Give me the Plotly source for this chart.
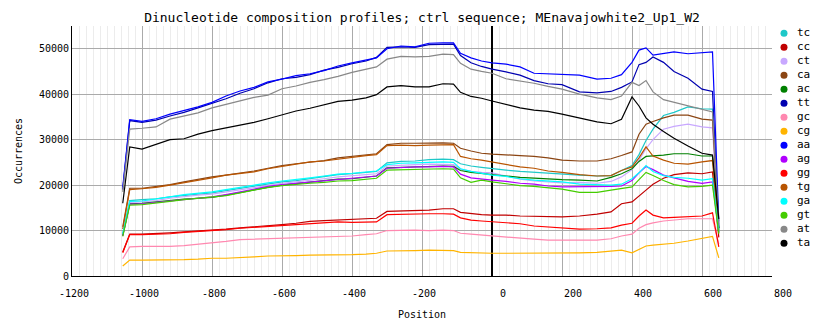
import plotly.graph_objects as go

# Window positions (bp relative to the reference site)
POSITIONS = [-1055, -1035, -1000, -960, -920, -880, -840, -800, -760, -720,
             -680, -640, -600, -560, -520, -480, -440, -400, -360, -330,
             -300, -260, -220, -180, -140, -110, -90, -60, -30, 0,
             40, 80, 120, 160, 200, 250, 300, 340, 370, 400,
             420, 440, 460, 490, 520, 560, 600, 630, 648]

# Dinucleotide occurrence counts per window
tc = [9300, 16600, 16800, 17000, 17400, 17700, 18000, 18300, 18800, 19300,
      19800, 20300, 20700, 21000, 21400, 21800, 22300, 22500, 22800, 23000,
      24900, 25200, 25300, 25600, 25700, 25600, 24700, 24200, 23900, 23600,
      23300, 23000, 22800, 22500, 22400, 22200, 22000, 22100, 23200, 24300,
      26700, 29800, 32300, 35300, 36000, 37200, 36800, 36700, 10500]
cc = [5300, 9200, 9200, 9300, 9500, 9700, 9900, 10000, 10300, 10600,
      10800, 11000, 11300, 11600, 12000, 12200, 12300, 12500, 12500, 12700,
      14200, 14300, 14300, 14500, 14800, 14800, 14000, 13700, 13500, 13400,
      13400, 13200, 13100, 13100, 13000, 13200, 13600, 14100, 15900, 16300,
      17500, 18900, 20200, 21500, 22300, 22700, 22500, 22900, 8500]
ct = [9000, 16200, 16300, 16600, 17100, 17500, 17800, 18000, 18500, 19000,
      19500, 20000, 20400, 20700, 21000, 21400, 21800, 22000, 22300, 22500,
      24200, 24400, 24500, 24600, 24600, 24500, 23500, 23000, 22800, 22700,
      22000, 21300, 20900, 20700, 20500, 20600, 20400, 20800, 21800, 23400,
      25500, 28000, 30000, 32300, 32900, 33400, 32800, 32600, 9800]
ca = [10800, 19300, 19300, 19700, 20100, 20700, 21300, 21800, 22200, 22600,
      23100, 23700, 24300, 24700, 25000, 25400, 26000, 26300, 26700, 26900,
      28900, 29200, 29200, 29300, 29300, 29200, 28100, 27500, 27000, 26800,
      26700, 26500, 26300, 26000, 25500, 25300, 25300, 25800, 26500, 27300,
      31200, 33400, 34000, 34800, 35400, 35400, 34500, 34300, 10500]
ac = [8900, 15900, 16000, 16300, 16700, 16900, 17100, 17300, 17800, 18400,
      18900, 19500, 20000, 20300, 20600, 20900, 21300, 21400, 21800, 22000,
      23800, 23900, 23900, 24100, 24200, 24100, 23200, 22800, 22600, 22400,
      22000, 21700, 21500, 21300, 21200, 21100, 20900, 21700, 22500, 23600,
      25200, 26300, 26400, 26600, 26900, 26900, 26400, 26400, 10000]
tt = [19000, 34200, 33800, 34300, 35200, 36000, 37000, 38000, 39000, 40200,
      41200, 42500, 43400, 43700, 44300, 45300, 45900, 46700, 47300, 48100,
      50300, 50400, 50300, 50900, 50900, 51000, 48500, 46900, 46100, 45500,
      44900, 44200, 43000, 42300, 42100, 40500, 40300, 40600, 41500, 42700,
      46500, 47000, 48200, 47000, 45000, 43500, 41100, 40600, 10500]
gc = [3800, 6400, 6500, 6500, 6500, 6700, 7000, 7200, 7600, 8000,
      8100, 8200, 8300, 8400, 8600, 8700, 8800, 8800, 9100, 9300,
      10000, 10100, 10100, 10000, 10100, 10000, 9400, 9200, 9000, 8800,
      8600, 8300, 8100, 7900, 7900, 7900, 7900, 8200, 8800, 9200,
      10500, 11300, 11700, 12100, 12300, 12600, 12600, 12600, 7000]
cg = [2200, 3500, 3500, 3500, 3600, 3600, 3700, 3900, 3900, 4000,
      4200, 4400, 4400, 4500, 4600, 4600, 4600, 4700, 4800, 5000,
      5500, 5500, 5600, 5700, 5700, 5600, 5200, 5100, 5000, 5000,
      5000, 5000, 5000, 5000, 5000, 5100, 5200, 5500, 5700, 5100,
      5900, 6600, 6800, 7000, 7200, 7700, 8300, 8700, 4000]
aa = [19500, 34400, 34000, 34600, 35600, 36400, 37200, 38200, 39600, 40700,
      41500, 42700, 43300, 44100, 44500, 45200, 46200, 46900, 47600, 48000,
      50000, 50600, 50400, 51200, 51300, 51300, 49000, 48000, 47300, 46900,
      46600, 46000, 44600, 44500, 44400, 44200, 43300, 43500, 44300, 47000,
      49700, 50200, 48600, 48900, 49300, 48900, 49100, 49300, 12000]
ag = [8900, 15800, 15900, 16200, 16600, 16900, 17200, 17400, 17900, 18500,
      19100, 19700, 20100, 20400, 20700, 21000, 21300, 21500, 21900, 22000,
      23700, 23900, 24000, 24000, 24100, 24000, 22400, 21600, 21300, 21100,
      20800, 20400, 20200, 19800, 19600, 19600, 19700, 19700, 19800, 21000,
      22700, 24100, 23400, 22200, 21600, 20800, 20400, 20700, 9600]
gg = [5100, 9100, 9100, 9200, 9300, 9600, 9800, 9900, 10200, 10500,
      10700, 10900, 11100, 11300, 11600, 11800, 11900, 11800, 11900, 11900,
      13500, 13600, 13600, 13700, 13700, 13600, 12800, 12300, 12100, 11900,
      11700, 11500, 11000, 10800, 10500, 10300, 10400, 10600, 11200, 11600,
      13200, 14500, 13400, 12800, 12900, 13000, 13200, 13900, 6400]
tg = [10300, 19000, 19200, 19500, 20000, 20500, 21000, 21600, 22200, 22500,
      22900, 23600, 24100, 24700, 25100, 25300, 25700, 26200, 26500, 26700,
      28700, 28800, 28700, 28800, 28900, 28900, 26300, 25800, 25500, 25100,
      24600, 24000, 23700, 23100, 22800, 22300, 22000, 22100, 23200, 24000,
      26000, 28400, 26400, 25500, 24800, 24600, 25100, 25400, 9500]
ga = [9200, 16400, 16500, 16900, 17400, 17900, 18200, 18500, 19000, 19500,
      20100, 20500, 20900, 21200, 21600, 22000, 22400, 22600, 22900, 23100,
      24500, 24800, 24900, 25000, 25100, 25000, 23600, 23000, 22600, 22200,
      21900, 21400, 21100, 20900, 20700, 20200, 20000, 20000, 20200, 21400,
      22700, 24300, 23000, 22100, 21700, 21500, 21100, 21400, 9800]
gt = [8700, 15600, 15700, 16000, 16400, 16800, 17100, 17300, 17700, 18300,
      18900, 19500, 19900, 20200, 20400, 20600, 20900, 21000, 21300, 21500,
      23300, 23400, 23500, 23600, 23600, 23500, 21600, 20600, 21100, 20700,
      20300, 19900, 19700, 19400, 19100, 18400, 18400, 18900, 19200, 19600,
      21200, 22800, 22100, 21000, 20100, 19600, 19700, 20000, 9300]
at = [18500, 32300, 32500, 32800, 34500, 35200, 35900, 37000, 37800, 38600,
      39300, 39800, 41200, 41800, 42600, 43200, 43900, 44800, 45400, 46000,
      47700, 48300, 48200, 48300, 48800, 48700, 46800, 45500, 45000, 44600,
      43400, 42900, 42400, 41700, 41100, 40000, 39200, 38800, 39600, 42600,
      41900, 43000, 40500, 38800, 38200, 37500, 36600, 36100, 11500]
ta = [16000, 28400, 27900, 28900, 30000, 30200, 31200, 32000, 32600, 33200,
      33800, 34600, 35500, 36300, 36900, 37600, 38400, 38700, 39200, 39900,
      41600, 41900, 41600, 41600, 42300, 42200, 40400, 39500, 39100, 38500,
      37800, 37000, 36500, 36200, 35600, 34800, 33900, 33500, 34500, 39400,
      37400, 34800, 33400, 31800, 30300, 28600, 27000, 26600, 12500]

SERIES = {"tc": tc, "cc": cc, "ct": ct, "ca": ca, "ac": ac, "tt": tt,
          "gc": gc, "cg": cg, "aa": aa, "ag": ag, "gg": gg, "tg": tg,
          "ga": ga, "gt": gt, "at": at, "ta": ta}
NAMES = list(SERIES.keys())
COLORS = {"tc": "#1ec8c8", "cc": "#c00000", "ct": "#c8a8ff", "ca": "#8b4513",
          "ac": "#008000", "tt": "#0000b0", "gc": "#ff88b0", "cg": "#ffb400",
          "aa": "#0000ff", "ag": "#b000ff", "gg": "#ff0000", "tg": "#b85400",
          "ga": "#00ffff", "gt": "#44cc00", "at": "#888888", "ta": "#000000"}

# Axis ticks
X_TICKS = [-1200, -1000, -800, -600, -400, -200, 0, 200, 400, 600, 800]
Y_TICKS = [0, 10000, 20000, 30000, 40000, 50000]

MONO = "DejaVu Sans Mono"
W, H = 834, 328
PLOT_L, PLOT_R, PLOT_T, PLOT_B = 72, 772, 26, 276

# non-negative labels sit a little further right than the signed ones
x_ticktext = [("\u00a0\u00a0\u00a0" + str(v)) if v >= 0 else str(v) for v in X_TICKS]

fig = go.Figure()
for name in NAMES:
    fig.add_trace(go.Scatter(
        x=POSITIONS, y=SERIES[name], mode="lines", name=name,
        line=dict(color=COLORS[name], width=1.2), showlegend=False,
        xaxis="x", yaxis="y"))

# Key drawn as a small side panel: one marker and label per series
rows = list(range(len(NAMES)))
fig.add_trace(go.Scatter(
    x=[6] * len(NAMES), y=rows, mode="markers",
    marker=dict(color=[COLORS[n] for n in NAMES], size=7, symbol="circle"),
    xaxis="x2", yaxis="y2", showlegend=False, hoverinfo="skip"))
fig.add_trace(go.Scatter(
    x=[19] * len(NAMES), y=rows, mode="text", text=NAMES,
    textposition="middle right",
    textfont=dict(family=MONO, size=11, color="black"),
    xaxis="x2", yaxis="y2", showlegend=False, hoverinfo="skip"))

area_w = W - PLOT_L
key_left = 778
row_px = 14
first_row_px = 33.3
plot_h = PLOT_B - PLOT_T
span = plot_h / row_px
top_val = -(first_row_px - PLOT_T) / row_px
fig.update_layout(
    width=W, height=H,
    margin=dict(l=PLOT_L, r=0, t=PLOT_T, b=H - PLOT_B, autoexpand=False),
    paper_bgcolor="white", plot_bgcolor="white",
    title=dict(text="Dinucleotide composition profiles; ctrl sequence; MEnavajowhite2_Up1_W2",
               x=(PLOT_L + PLOT_R) / 2 / W, xanchor="center", xref="container",
               y=(H - 17) / H, yanchor="middle", yref="container",
               font=dict(family=MONO, size=13, color="black")),
    xaxis=dict(domain=[0, (PLOT_R - PLOT_L) / area_w], range=[-1200, 800],
               tickmode="array", tickvals=X_TICKS, ticktext=x_ticktext,
               showline=True, linecolor="black",
               linewidth=1, showgrid=True, gridcolor="#aaaaaa", gridwidth=1,
               zeroline=True, zerolinecolor="black", zerolinewidth=1.5,
               ticks="", ticklabelstandoff=8, ticklabelshift=2,
               minor=dict(dtick=20, tick0=-1200, showgrid=True,
                          gridcolor="#ececec", gridwidth=1),
               tickfont=dict(family=MONO, size=10, color="black"),
               title=dict(text="Position", standoff=12,
                          font=dict(family=MONO, size=10, color="black"))),
    yaxis=dict(range=[0, 55000], tickmode="array", tickvals=Y_TICKS,
               ticktext=[str(v) for v in Y_TICKS],
               showline=True, linecolor="black",
               linewidth=1, showgrid=True, gridcolor="#aaaaaa", gridwidth=1,
               zeroline=False, ticks="",
               tickfont=dict(family=MONO, size=10, color="black"),
               title=dict(text="Occurrences", standoff=14,
                          font=dict(family=MONO, size=10, color="black"))),
    xaxis2=dict(domain=[(key_left - PLOT_L) / area_w, 1], range=[0, W - key_left],
                visible=False, fixedrange=True),
    yaxis2=dict(anchor="x2", range=[top_val + span, top_val], visible=False,
                fixedrange=True),
)

fig.write_html("out.html")
